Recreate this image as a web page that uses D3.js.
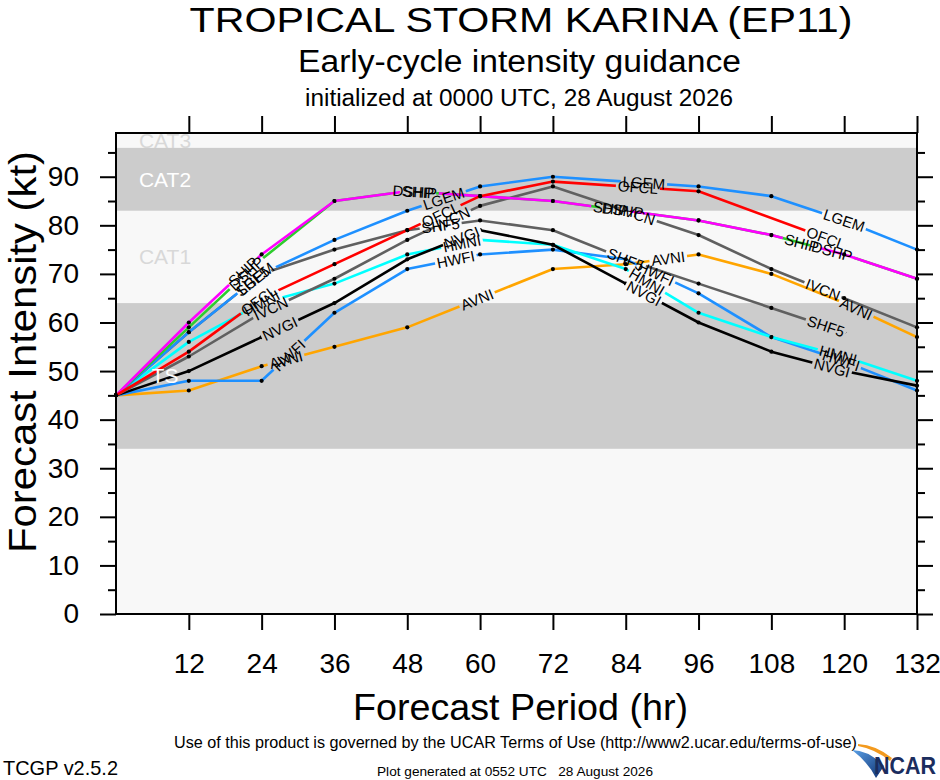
<!DOCTYPE html>
<html>
<head>
<meta charset="utf-8">
<script src="https://cdn.jsdelivr.net/npm/d3@7"></script>
<style>
body { margin: 0; background: #fff; }
svg { display: block; font-family: "Liberation Sans", Arial, Helvetica, sans-serif; }
</style>
</head>
<body>
<svg id="chart" width="940" height="780"></svg>
<script>
// forecast hours and intensity guidance (kt), null = no forecast at that hour
var hours = [0, 12, 24, 36, 48, 60, 72, 84, 96, 108, 120, 132];
var AVNI = [45, 46, 51, 55, 59, 65, 71, 72, 74, 70, 64, 57];
var HWFI = [45, 48, 48, 62, 71, 74, 75, 73, 66, 57, 52, 46];
var HMNI = [45, 56, 64, 68, 74, 77, 76, 71, 62, 57, 53, 48];
var NVGI = [45, 50, 57, 64, 73, 79, 76, 68, 60, 54, 50, 47];
var SHF5 = [45, 58, 70, 75, 79, 81, 79, 73, 68, 63, 58, null];
var IVCN = [45, 53, 62, 69, 77, 84, 88, 83, 78, 71, 65, 59];
var LGEM = [45, 58, 70, 77, 83, 88, 90, 89, 88, 86, 81, 75];
var DSHP = [45, 59, 73, 85, 87, 86, 85, 83, 81, 78, 74, 69];
var SHIP = [45, 60, 74, 85, 87, 86, 85, 83, 81, 78, 74, 69];
var OFCL = [45, 54, 65, 72, 79, 86, 89, null, 87, null, 76, null];

// intensity categories (kt)
var bandNames = ["TD", "TS", "CAT1", "CAT2", "CAT3"];
var bandLow = [0, 34, 64, 83, 96];
var bandHigh = [34, 64, 83, 96, 113];

var xTicks = [12, 24, 36, 48, 60, 72, 84, 96, 108, 120, 132];
var yTicks = [0, 10, 20, 30, 40, 50, 60, 70, 80, 90];
var yMinor = [5, 15, 25, 35, 45, 55, 65, 75, 85, 95];

var models = [
  { name: "AVNI", values: AVNI },
  { name: "HWFI", values: HWFI },
  { name: "HMNI", values: HMNI },
  { name: "NVGI", values: NVGI },
  { name: "SHF5", values: SHF5 },
  { name: "IVCN", values: IVCN },
  { name: "LGEM", values: LGEM },
  { name: "DSHP", values: DSHP },
  { name: "SHIP", values: SHIP },
  { name: "OFCL", values: OFCL }
];

var colors = {
  AVNI: "#ffa500", HWFI: "#1e90ff", HMNI: "#00ffff", NVGI: "#000000",
  SHF5: "#606060", IVCN: "#606060", LGEM: "#1e90ff", DSHP: "#2ecc2e",
  SHIP: "#ff00ff", OFCL: "#ff0000"
};
// where the in-line labels sit (forecast hour)
var labelAt = {
  AVNI: [28, 59.5, 91, 122], HWFI: [28.5, 56, 89, 119.5], HMNI: [24, 57, 87.5, 119],
  NVGI: [27, 57, 87, 118], SHF5: [22.5, 53.5, 84, 117], IVCN: [25.5, 55.5, 86, 116.5],
  LGEM: [23, 54, 87, 120], DSHP: [21.5, 49, 83.5, 118], SHIP: [21, 50, 81.5, 113],
  OFCL: [23.5, 53.5, 86, 117]
};
var bandFill = { TD: "#f8f8f8", TS: "#cccccc", CAT1: "#f8f8f8", CAT2: "#cccccc", CAT3: "#f8f8f8" };
var bandText = { TS: "#ffffff", CAT1: "#d8d8d8", CAT2: "#ffffff", CAT3: "#d8d8d8" };

var plotL = 116, plotR = 917, plotT = 133, plotB = 614;
var yMax = 99;

var svg = d3.select("#chart");
var x = d3.scaleLinear().domain([0, 132]).range([plotL, plotR]);
var y = d3.scaleLinear().domain([0, yMax]).range([plotB, plotT]);

var defs = svg.append("defs");
defs.append("clipPath").attr("id", "plotclip")
  .append("rect").attr("x", plotL).attr("y", plotT)
  .attr("width", plotR - plotL).attr("height", plotB - plotT);

var bands = svg.append("g").attr("clip-path", "url(#plotclip)");
var linesG = svg.append("g");
var bandLabels = svg.append("g").attr("clip-path", "url(#plotclip)");
var labelsG = svg.append("g");

// category bands
bandNames.forEach(function (b, i) {
  var lo = Math.max(bandLow[i], 0), hi = Math.min(bandHigh[i], yMax);
  bands.append("rect")
    .attr("x", plotL).attr("width", plotR - plotL)
    .attr("y", y(hi)).attr("height", y(lo) - y(hi))
    .attr("fill", bandFill[b]);
  if (bandText[b]) {
    bandLabels.append("text")
      .attr("x", 165).attr("y", y((lo + hi) / 2)).attr("dy", "0.36em")
      .attr("text-anchor", "middle").attr("font-size", 21)
      .attr("fill", bandText[b]).text(b);
  }
});

// helper: screen point + slope angle at a fractional hour
function pointAt(vals, h) {
  var pts = [];
  vals.forEach(function (v, i) { if (v !== null) pts.push([hours[i], v]); });
  for (var i = 0; i < pts.length - 1; i++) {
    var a = pts[i], b = pts[i + 1];
    if (h >= a[0] && h <= b[0]) {
      var t = (h - a[0]) / (b[0] - a[0]);
      var x0 = x(a[0]), y0 = y(a[1]), x1 = x(b[0]), y1 = y(b[1]);
      return {
        x: x0 + t * (x1 - x0), y: y0 + t * (y1 - y0),
        angle: Math.atan2(y1 - y0, x1 - x0) * 180 / Math.PI
      };
    }
  }
  return null;
}

var line = d3.line().x(function (d) { return x(d[0]); }).y(function (d) { return y(d[1]); });

models.forEach(function (m) {
  var pts = [];
  m.values.forEach(function (v, i) { if (v !== null) pts.push([hours[i], v]); });

  var mask = defs.append("mask").attr("id", "mask-" + m.name)
    .attr("maskUnits", "userSpaceOnUse")
    .attr("x", 0).attr("y", 0).attr("width", 940).attr("height", 780);
  mask.append("rect").attr("width", 940).attr("height", 780).attr("fill", "#fff");

  labelAt[m.name].forEach(function (h) {
    var p = pointAt(m.values, h);
    if (!p) return;
    var tr = "translate(" + p.x + "," + p.y + ") rotate(" + p.angle + ")";
    var t = labelsG.append("text")
      .attr("transform", tr).attr("text-anchor", "middle").attr("dy", "0.36em")
      .attr("font-size", 15).attr("fill", "#000").text(m.name);
    var w = t.node().getComputedTextLength();
    mask.append("rect").attr("transform", tr)
      .attr("x", -w / 2 - 2).attr("y", -7).attr("width", w + 4).attr("height", 14)
      .attr("fill", "#000");
  });

  var g = linesG.append("g").attr("mask", "url(#mask-" + m.name + ")");
  g.append("path").datum(pts).attr("d", line)
    .attr("fill", "none").attr("stroke", colors[m.name])
    .attr("stroke-width", 2.6).attr("stroke-linejoin", "round");
  g.selectAll("circle").data(pts).enter().append("circle")
    .attr("cx", function (d) { return x(d[0]); })
    .attr("cy", function (d) { return y(d[1]); })
    .attr("r", 2.1).attr("fill", "#000");
});

// frame and axes
svg.append("rect").attr("x", plotL).attr("y", plotT)
  .attr("width", plotR - plotL).attr("height", plotB - plotT)
  .attr("fill", "none").attr("stroke", "#000").attr("stroke-width", 2);

function styleAxis(g) {
  g.select(".domain").remove();
  g.selectAll(".tick line").attr("stroke", "#000").attr("stroke-width", 2);
  g.selectAll(".tick text").attr("fill", "#000").attr("font-size", 28)
    .attr("font-family", "Liberation Sans, Arial, sans-serif");
}

svg.append("g").attr("transform", "translate(" + plotL + ",0)")
  .call(d3.axisLeft(y).tickValues(yTicks).tickSize(16).tickPadding(21)).call(styleAxis);
svg.append("g").attr("transform", "translate(" + plotL + ",0)")
  .call(d3.axisLeft(y).tickValues(yMinor).tickSize(8).tickFormat("")).call(styleAxis);
svg.append("g").attr("transform", "translate(" + plotR + ",0)")
  .call(d3.axisRight(y).tickValues(yTicks).tickSize(16).tickFormat("")).call(styleAxis);
svg.append("g").attr("transform", "translate(" + plotR + ",0)")
  .call(d3.axisRight(y).tickValues(yMinor).tickSize(8).tickFormat("")).call(styleAxis);
svg.append("g").attr("transform", "translate(0," + plotB + ")")
  .call(d3.axisBottom(x).tickValues(xTicks).tickSize(16).tickPadding(23)).call(styleAxis);
svg.append("g").attr("transform", "translate(0," + plotT + ")")
  .call(d3.axisTop(x).tickValues(xTicks).tickSize(17).tickFormat("")).call(styleAxis);

// titles
svg.append("text").attr("x", 521).attr("y", 32).attr("text-anchor", "middle")
  .attr("font-size", 35.5).attr("textLength", 663).attr("lengthAdjust", "spacingAndGlyphs")
  .text("TROPICAL STORM KARINA (EP11)");
svg.append("text").attr("x", 519.5).attr("y", 72).attr("text-anchor", "middle")
  .attr("font-size", 31).attr("textLength", 443).attr("lengthAdjust", "spacingAndGlyphs")
  .text("Early-cycle intensity guidance");
svg.append("text").attr("x", 519).attr("y", 106).attr("text-anchor", "middle")
  .attr("font-size", 23).attr("textLength", 428).attr("lengthAdjust", "spacingAndGlyphs")
  .text("initialized at 0000 UTC, 28 August 2026");

svg.append("text").attr("x", 520.5).attr("y", 720).attr("text-anchor", "middle")
  .attr("font-size", 37).attr("textLength", 335).attr("lengthAdjust", "spacingAndGlyphs")
  .text("Forecast Period (hr)");
svg.append("text").attr("transform", "translate(36,352) rotate(-90)")
  .attr("text-anchor", "middle").attr("font-size", 38)
  .attr("textLength", 402).attr("lengthAdjust", "spacingAndGlyphs")
  .text("Forecast Intensity (kt)");

// footer
svg.append("text").attr("x", 174).attr("y", 748).attr("font-size", 16)
  .attr("textLength", 683).attr("lengthAdjust", "spacingAndGlyphs")
  .text("Use of this product is governed by the UCAR Terms of Use (http://www2.ucar.edu/terms-of-use)");
svg.append("text").attr("x", 3).attr("y", 775).attr("font-size", 21)
  .attr("textLength", 115).attr("lengthAdjust", "spacingAndGlyphs").text("TCGP v2.5.2");
svg.append("text").attr("x", 377).attr("y", 776).attr("font-size", 13)
  .style("white-space", "pre")
  .attr("textLength", 276).attr("lengthAdjust", "spacingAndGlyphs")
  .text("Plot generated at 0552 UTC   28 August 2026");

// NCAR logo
var grad = defs.append("linearGradient").attr("id", "ncarBlue")
  .attr("x1", "0").attr("y1", "0").attr("x2", "1").attr("y2", "1");
grad.append("stop").attr("offset", "0").attr("stop-color", "#5aa0e6");
grad.append("stop").attr("offset", "1").attr("stop-color", "#0d2f70");
svg.append("path").attr("d", "M852,750 Q868,750 884,766 L876,778 Q868,762 852,750 Z")
  .attr("fill", "url(#ncarBlue)");
svg.append("path").attr("d", "M858,744 Q876,745 892,758 L890,761 Q875,749 858,746 Z")
  .attr("fill", "#f39a1e");
svg.append("text").attr("x", 874).attr("y", 774).attr("font-size", 23).attr("font-weight", "bold")
  .attr("textLength", 62).attr("lengthAdjust", "spacingAndGlyphs")
  .attr("fill", "#1b2d5e").text("NCAR");
</script>
</body>
</html>
